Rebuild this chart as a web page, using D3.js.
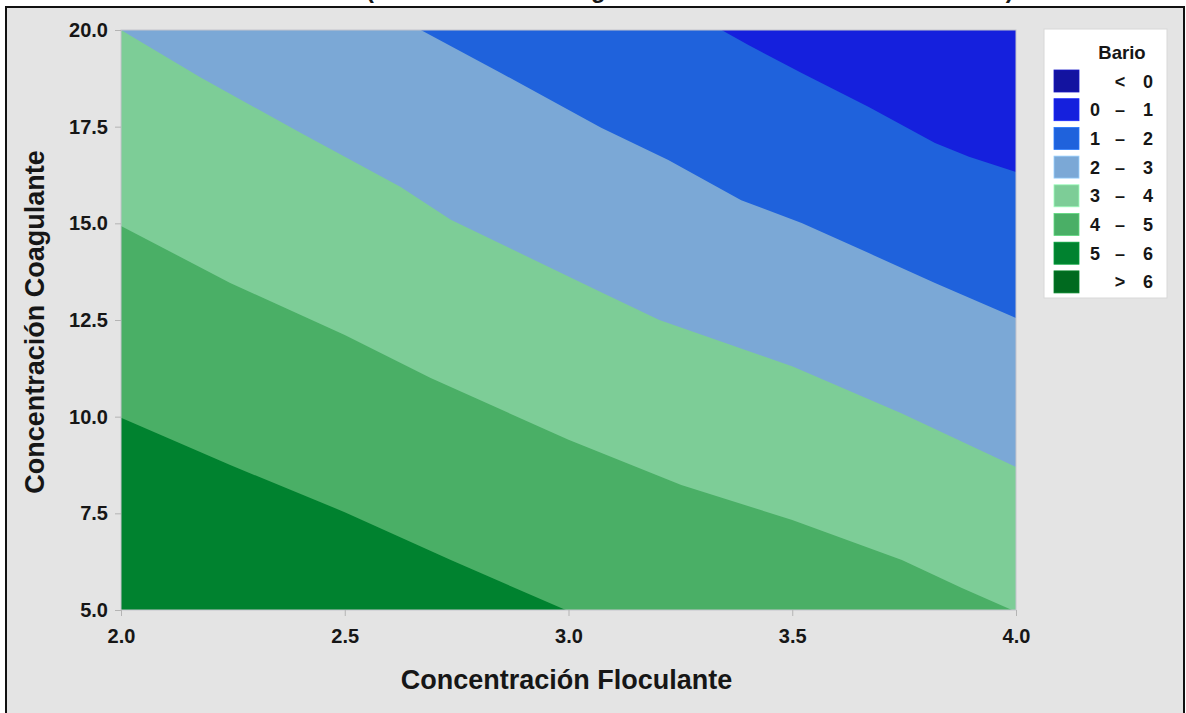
<!DOCTYPE html>
<html lang="es">
<head>
<meta charset="utf-8">
<script src="https://d3js.org/d3.v7.min.js"></script>
<style>
  body { margin:0; background:#fff; overflow:hidden; }
  text { font-family: "Liberation Sans", Arial, sans-serif; font-weight:bold; fill:#161616; }
</style>
</head>
<body>
<script>
// axis ticks
var xTicks = [2.0, 2.5, 3.0, 3.5, 4.0];
var yTicks = [5.0, 7.5, 10.0, 12.5, 15.0, 17.5, 20.0];

// legend bands (low, dash, high) and their colours
var bandLabels = [["", "<", "0"], ["0", "–", "1"], ["1", "–", "2"], ["2", "–", "3"],
                  ["3", "–", "4"], ["4", "–", "5"], ["5", "–", "6"], ["", ">", "6"]];
var bandColors = ["#1313a0", "#1520dd", "#1f62dc", "#7ba8d6", "#7dcd97", "#4aaf66", "#00822f", "#006a1f"];

// contour lines, [floculante, coagulante]
var level1 = [[3.342, 20], [3.402, 19.61], [3.521, 18.89], [3.671, 18.01], [3.819, 17.08], [3.895, 16.72], [4.0, 16.33]];
var level2 = [[2.670, 20], [2.849, 18.89], [3.073, 17.47], [3.223, 16.64], [3.386, 15.60], [3.521, 15.01], [3.671, 14.23], [3.819, 13.46], [4.0, 12.55]];
var level3 = [[2.0, 20], [2.177, 18.78], [2.401, 17.34], [2.625, 15.94], [2.737, 15.09], [3.073, 13.22], [3.203, 12.50], [3.501, 11.30], [3.745, 10.08], [4.0, 8.70]];
var level4 = [[2.0, 14.93], [2.244, 13.46], [2.5, 12.11], [2.692, 11.0], [3.0, 9.40], [3.252, 8.23], [3.5, 7.33], [3.745, 6.29], [3.879, 5.57], [3.991, 5.0]];
var level5 = [[2.0, 9.97], [2.244, 8.75], [2.5, 7.53], [2.737, 6.29], [2.994, 5.0]];
var levels = [level1, level2, level3, level4, level5];

function drawChart() {
  var W = 1186, H = 713;
  var svg = d3.select("body").append("svg").attr("width", W).attr("height", H);

  // title (cut off by the top of the picture)
  svg.append("text").attr("x", 366).attr("y", -2.5)
    .style("font-size", "23.7px")
    .text("(Concentración Coagulante vs Concentración Floculante)");

  // frame
  svg.append("rect").attr("x", 6).attr("y", 7).attr("width", 1178).attr("height", 730)
    .attr("fill", "#e4e4e4").attr("stroke", "#111").attr("stroke-width", 2);

  var pLeft = 121, pRight = 1016, pTop = 30, pBottom = 610;
  var x = d3.scaleLinear().domain([2, 4]).range([pLeft, pRight]);
  var y = d3.scaleLinear().domain([5, 20]).range([pBottom, pTop]);

  svg.append("clipPath").attr("id", "plotclip").append("rect")
    .attr("x", pLeft).attr("y", pTop).attr("width", pRight - pLeft).attr("height", pBottom - pTop);

  var plot = svg.append("g").attr("clip-path", "url(#plotclip)");
  plot.append("rect").attr("x", pLeft).attr("y", pTop).attr("width", pRight - pLeft).attr("height", pBottom - pTop)
    .attr("fill", bandColors[6]);

  var line = d3.line().x(function(d) { return x(d[0]); }).y(function(d) { return y(d[1]); });
  var xd = x.domain(), yd = y.domain();

  // from the 5 line up to the 1 line: fill the region with lower values (upper right)
  for (var i = levels.length - 1; i >= 0; i--) {
    var pts = levels[i].concat([[xd[1], yd[0]], [xd[1], yd[1]], [xd[0], yd[1]]]);
    plot.append("path").attr("d", line(pts) + "Z").attr("fill", bandColors[i + 1]);
  }

  svg.append("rect").attr("x", pLeft).attr("y", pTop).attr("width", pRight - pLeft).attr("height", pBottom - pTop)
    .attr("fill", "none").attr("stroke", "#c4c4cc").attr("stroke-width", 1);

  // axes
  var xAxis = d3.axisBottom(x).tickValues(xTicks).tickFormat(d3.format(".1f")).tickSize(6).tickSizeOuter(0);
  var yAxis = d3.axisLeft(y).tickValues(yTicks).tickFormat(d3.format(".1f")).tickSize(6).tickSizeOuter(0);

  var gx = svg.append("g").attr("transform", "translate(0," + pBottom + ")").call(xAxis);
  var gy = svg.append("g").attr("transform", "translate(" + pLeft + ",0)").call(yAxis);
  [gx, gy].forEach(function(g) {
    g.select(".domain").remove();
    g.selectAll(".tick line").attr("stroke", "#b4b4b4");
    g.selectAll(".tick text").style("font-size", "20px").attr("fill", "#161616");
  });
  gx.selectAll(".tick text").attr("dy", "1.2em");
  gy.selectAll(".tick text").attr("dx", "-0.2em");

  svg.append("text").attr("x", (pLeft + pRight) / 2 - 2).attr("y", 689)
    .attr("text-anchor", "middle").style("font-size", "27px")
    .text("Concentración Floculante");
  svg.append("text").attr("transform", "translate(44," + ((pTop + pBottom) / 2 + 2) + ") rotate(-90)")
    .attr("text-anchor", "middle").style("font-size", "27px")
    .text("Concentración Coagulante");

  // legend
  var leg = svg.append("g");
  leg.append("rect").attr("x", 1044).attr("y", 29).attr("width", 123).attr("height", 269)
    .attr("fill", "#fff").attr("stroke", "#d8d8d8");
  leg.append("text").attr("x", 1122).attr("y", 59).attr("text-anchor", "middle")
    .style("font-size", "18.5px").text("Bario");

  var rows = leg.selectAll("g.row").data(bandLabels).enter().append("g")
    .attr("class", "row")
    .attr("transform", function(d, i) { return "translate(0," + (70 + i * 28.7) + ")"; });
  rows.append("rect").attr("x", 1054).attr("width", 25).attr("height", 22)
    .attr("fill", function(d, i) { return bandColors[i]; })
    .attr("stroke", function(d, i) { return d3.color(bandColors[i]).brighter(0.6); }).attr("stroke-width", 0.8);
  rows.append("text").attr("x", 1095).attr("y", 17.5).attr("text-anchor", "middle")
    .style("font-size", "18px").text(function(d) { return d[0]; });
  rows.append("text").attr("x", 1120).attr("y", 17.5).attr("text-anchor", "middle")
    .style("font-size", "18px").text(function(d) { return d[1]; });
  rows.append("text").attr("x", 1148).attr("y", 17.5).attr("text-anchor", "middle")
    .style("font-size", "18px").text(function(d) { return d[2]; });
}

drawChart();
</script>
</body>
</html>
